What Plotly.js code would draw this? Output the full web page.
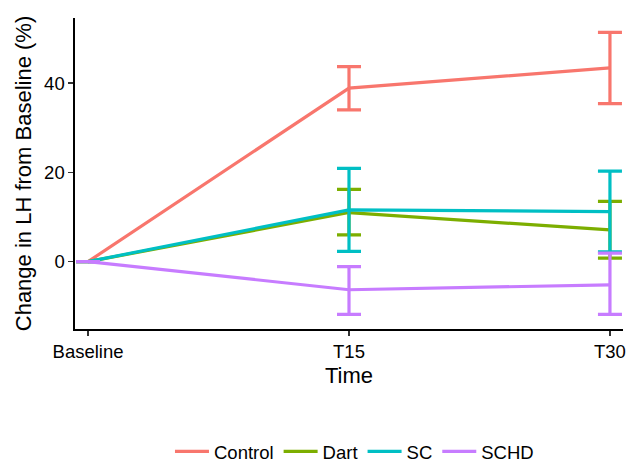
<!DOCTYPE html>
<html>
<head>
<meta charset="utf-8">
<script src="https://cdn.plot.ly/plotly-3.0.1.min.js"></script>
<style>html,body{margin:0;padding:0;background:#fff;}#chart{width:628px;height:464px;}</style>
</head>
<body>
<div id="chart"></div>
<script>
const timeVals = [0, 15, 30];
const timeLabels = ["Baseline", "T15", "T30"];
const groups = ["Control", "Dart", "SC", "SCHD"];
const colors = ["#F8766D", "#7CAE00", "#00BFC4", "#C77CFF"];

const controlMean = [0, 38.9, 43.4];
const controlUpper = [0, 43.7, 51.4];
const controlLower = [0, 34.0, 35.4];

const dartMean = [0, 11.0, 7.1];
const dartUpper = [0, 16.2, 13.5];
const dartLower = [0, 6.0, 0.8];

const scMean = [0, 11.6, 11.2];
const scUpper = [0, 20.9, 20.3];
const scLower = [0, 2.3, 2.2];

const schdMean = [0, -6.3, -5.2];
const schdUpper = [0, -1.1, 1.9];
const schdLower = [0, -11.8, -11.8];

const series = [
  [controlMean, controlUpper, controlLower],
  [dartMean, dartUpper, dartLower],
  [scMean, scUpper, scLower],
  [schdMean, schdUpper, schdLower]
];

const traces = series.map((s, i) => ({
  type: "scatter",
  mode: "lines",
  name: groups[i],
  x: timeVals,
  y: s[0],
  line: {color: colors[i], width: 3.2},
  error_y: {
    type: "data",
    symmetric: false,
    array: s[1].map((u, k) => u - s[0][k]),
    arrayminus: s[0].map((m, k) => m - s[2][k]),
    color: colors[i],
    thickness: 3.2,
    width: 12
  }
}));

const layout = {
  width: 628, height: 464,
  margin: {l: 75, r: 5, t: 18, b: 135, autoexpand: false},
  paper_bgcolor: "#fff", plot_bgcolor: "#fff",
  font: {family: "Liberation Sans, Arial, sans-serif", color: "#000", size: 18},
  showlegend: true,
  legend: {orientation: "h", x: 0.51, xanchor: "center", yref: "container", y: 0.026, yanchor: "middle",
           font: {size: 18.5, color: "#000"}, traceorder: "normal", itemwidth: 34},
  xaxis: {
    range: [-0.75, 30.75], tickvals: timeVals, ticktext: timeLabels,
    showgrid: false, zeroline: false, showline: true, linecolor: "#000", linewidth: 1.6,
    ticks: "outside", ticklen: 5, tickcolor: "#333", tickwidth: 1.3,
    tickfont: {size: 18.5, color: "#000"},
    automargin: false,
    title: {text: "Time", font: {size: 22, color: "#000"}, standoff: 7}
  },
  yaxis: {
    range: [-15.1, 54.6], tickvals: [0, 20, 40],
    showgrid: false, zeroline: false, showline: true, linecolor: "#000", linewidth: 1.6,
    ticks: "outside", ticklen: 5, tickcolor: "#333", tickwidth: 1.3,
    tickfont: {size: 18.5, color: "#000"},
    automargin: false,
    title: {text: "Change in LH from Baseline (%)", font: {size: 22, color: "#000"}, standoff: 6}
  }
};

Plotly.newPlot("chart", traces, layout, {displayModeBar: false, staticPlot: true});
</script>
</body>
</html>
